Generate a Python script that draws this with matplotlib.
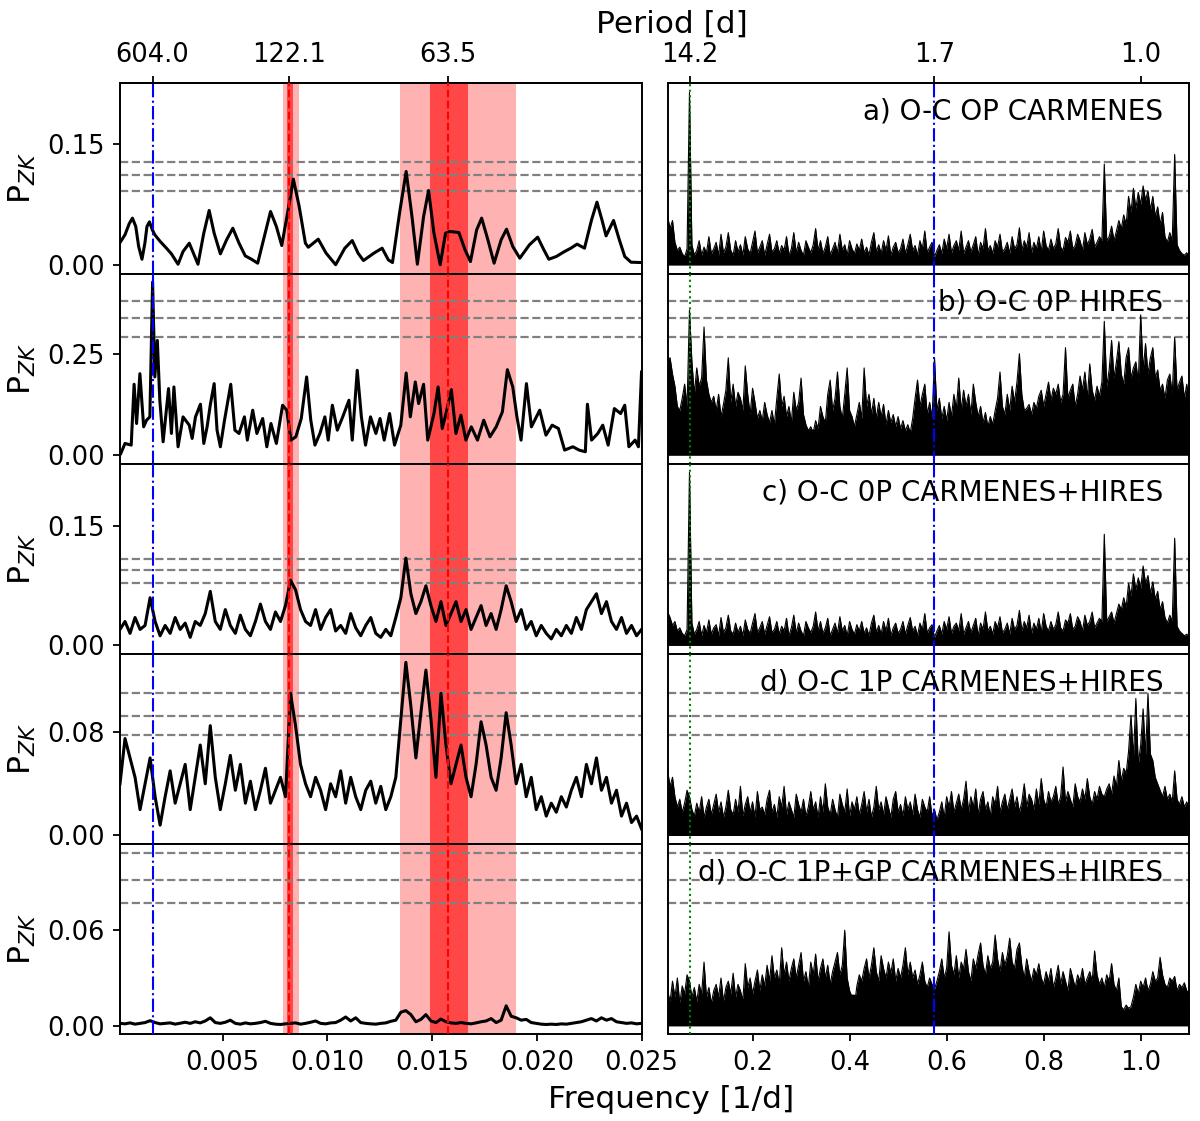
import numpy as np
import matplotlib
matplotlib.use("Agg")
import matplotlib.pyplot as plt

# ------------------------------------------------------------------ data
# periods marked on the top axis [d]
PERIODS_LEFT = [604.0, 122.1, 63.5]
PERIODS_RIGHT = [14.2, 1.74, 1.0]
BLUE_PERIODS = [604.0, 1.74]
GREEN_PERIOD = 14.2
RED_PERIODS = [122.1, 63.5]
RED_BANDS_LIGHT = [(0.00786, 0.00866), (0.01345, 0.01901)]
RED_BANDS_DARK = [(0.00808, 0.00834), (0.01491, 0.01673)]

PANEL_LABELS = ["a) O-C OP CARMENES", "b) O-C 0P HIRES", "c) O-C 0P CARMENES+HIRES",
                "d) O-C 1P CARMENES+HIRES", "d) O-C 1P+GP CARMENES+HIRES"]
YLIMS = [(-0.0107, 0.2253), (-0.0213, 0.448), (-0.0109, 0.229), (-0.0067, 0.1405), (-0.0054, 0.1141)]
FAP_LEVELS = [[0.1277, 0.1116, 0.0917], [0.380, 0.338, 0.292], [0.1093, 0.0955, 0.0788],
              [0.1106, 0.0927, 0.0778], [0.1085, 0.0918, 0.0771]]
YTICKS = [[0.0, 0.15], [0.0, 0.25], [0.0, 0.15], [0.0, 0.08], [0.0, 0.06]]
XTICKS_LEFT = [0.005, 0.010, 0.015, 0.020, 0.025]
XTICKS_RIGHT = [0.2, 0.4, 0.6, 0.8, 1.0]

# panel a, left: frequency [1e-3 1/d], power [1e-3]
FREQ_A_MILLI = [0.100, 0.338, 0.536, 0.694, 0.852, 0.991, 1.149, 1.288, 1.387, 1.506,
                1.644, 1.763, 2.021, 2.318, 2.555, 2.872, 3.110, 3.407, 3.605, 3.822,
                4.100, 4.357, 4.595, 4.892, 5.189, 5.486, 5.783, 6.080, 6.377, 6.674,
                7.030, 7.287, 7.565, 7.822, 8.099, 8.376, 8.654, 8.951, 9.089, 9.564,
                9.941, 10.396, 10.832, 11.188, 11.465, 11.723, 12.218, 12.614, 12.911, 13.109,
                13.445, 13.762, 14.039, 14.297, 14.594, 14.831, 15.089, 15.386, 15.643, 15.841,
                16.277, 16.574, 16.831, 17.128, 17.366, 17.663, 17.960, 18.296, 18.554, 18.851,
                19.187, 19.643, 20.039, 20.336, 20.573, 20.930, 21.326, 21.623, 21.920, 22.276,
                22.613, 22.870, 23.108, 23.306, 23.662, 23.939, 24.197, 24.494, 25.000]
POWER_A_MILLI = [27.7, 37.3, 50.9, 58.0, 47.6, 22.8, 7.0, 26.9, 47.6, 53.4,
                 43.5, 37.3, 29.0, 20.7, 13.7, 0.8, 16.6, 26.9, 14.5, 0.8,
                 39.3, 67.5, 39.3, 13.7, 31.1, 45.5, 26.9, 11.2, 7.0, 2.1,
                 39.3, 66.2, 47.6, 24.0, 64.2, 106.4, 72.5, 26.9, 21.9, 31.9,
                 14.5, 0.2, 20.7, 30.2, 14.5, 5.4, 14.5, 20.7, 6.2, 2.9,
                 64.2, 115.9, 60.0, 0.8, 60.0, 92.3, 39.3, 0.2, 39.3, 41.4,
                 40.2, 18.6, 4.1, 43.5, 58.0, 31.1, 2.1, 31.1, 44.3, 22.8,
                 8.3, 24.8, 34.4, 18.6, 7.0, 10.4, 16.6, 20.7, 25.7, 20.7,
                 55.9, 77.8, 55.9, 36.0, 55.1, 31.1, 10.4, 3.3, 2.9]

# panel b, left
FREQ_B_MILLI = [0.140, 0.338, 0.635, 0.773, 0.892, 1.050, 1.229, 1.367, 1.526, 1.656,
                1.763, 1.882, 2.001, 2.159, 2.417, 2.555, 2.674, 2.872, 3.110, 3.407,
                3.545, 3.704, 3.941, 4.100, 4.258, 4.416, 4.595, 4.733, 4.892, 5.090,
                5.387, 5.585, 5.783, 6.040, 6.179, 6.436, 6.634, 6.911, 7.109, 7.307,
                7.565, 7.862, 8.060, 8.258, 8.495, 8.753, 9.010, 9.208, 9.406, 9.644,
                9.881, 10.040, 10.238, 10.475, 10.733, 11.030, 11.188, 11.426, 11.624, 11.822,
                12.059, 12.317, 12.515, 12.713, 12.970, 13.208, 13.505, 13.762, 13.960, 14.198,
                14.356, 14.594, 14.792, 15.089, 15.287, 15.485, 15.683, 15.920, 16.138, 16.376,
                16.613, 16.871, 17.168, 17.465, 17.762, 18.059, 18.356, 18.593, 18.851, 19.049,
                19.247, 19.504, 19.742, 20.138, 20.435, 20.732, 21.029, 21.326, 21.722, 22.019,
                22.316, 22.415, 22.613, 22.910, 23.147, 23.405, 23.702, 23.999, 24.197, 24.395,
                24.692, 24.850, 25.000]
POWER_B_MILLI = [4.1, 28.7, 24.6, 174.7, 77.9, 200.9, 69.7, 86.1, 94.3, 427.0,
                 192.7, 282.9, 135.3, 32.8, 164.0, 53.3, 168.1, 20.5, 94.3, 73.8,
                 41.0, 94.3, 125.5, 28.7, 69.7, 125.5, 176.3, 61.5, 20.5, 86.1,
                 174.7, 61.5, 53.3, 94.3, 36.9, 110.7, 53.3, 90.2, 20.5, 77.9,
                 28.7, 123.0, 110.7, 36.9, 45.1, 90.2, 192.7, 86.1, 24.6, 53.3,
                 94.3, 36.9, 123.0, 61.5, 94.3, 135.3, 36.9, 209.1, 94.3, 24.6,
                 94.3, 53.3, 90.2, 36.9, 102.5, 24.6, 73.8, 202.5, 94.3, 180.4,
                 127.1, 174.7, 36.9, 102.5, 168.1, 65.6, 106.6, 161.5, 53.3, 98.4,
                 36.9, 69.7, 36.9, 86.1, 45.1, 69.7, 106.6, 210.7, 168.1, 94.3,
                 36.9, 176.3, 69.7, 110.7, 49.2, 73.8, 65.6, 12.3, 20.5, 12.3,
                 8.2, 125.5, 36.9, 53.3, 73.8, 24.6, 114.8, 102.5, 123.0, 20.5,
                 36.9, 20.5, 205.0]

# panels c, d, e, left: power [1e-3] on a uniform grid 0.0001 .. 0.025 1/d
POWER_C_MILLI = [20, 30, 15, 35, 20, 25, 60, 30, 12, 25, 15, 35, 20, 28, 10,
                 30, 25, 40, 68, 30, 20, 45, 25, 15, 38, 20, 12, 30, 52, 30,
                 20, 42, 30, 50, 82, 70, 45, 30, 25, 45, 20, 35, 45, 18, 25,
                 15, 40, 22, 12, 25, 35, 15, 10, 20, 12, 35, 60, 110, 65, 40,
                 55, 75, 50, 30, 55, 25, 40, 55, 30, 45, 20, 35, 50, 25, 40,
                 20, 45, 75, 55, 30, 45, 20, 30, 12, 25, 15, 8, 20, 12, 25,
                 15, 35, 20, 45, 55, 65, 40, 55, 30, 20, 35, 15, 25, 12, 20]
POWER_D_MILLI = [40, 75, 60, 45, 20, 40, 60, 30, 8, 30, 50, 25, 40, 55, 20,
                 45, 70, 40, 85, 45, 20, 40, 62, 35, 55, 25, 42, 20, 35, 52,
                 25, 35, 45, 30, 110, 85, 55, 40, 30, 45, 35, 20, 40, 30, 50,
                 25, 45, 30, 20, 35, 42, 25, 38, 20, 30, 45, 90, 134, 100, 60,
                 95, 128, 90, 45, 110, 70, 40, 55, 70, 45, 30, 55, 88, 70, 45,
                 35, 60, 95, 70, 40, 55, 30, 45, 20, 30, 15, 25, 18, 30, 22,
                 35, 45, 30, 55, 40, 60, 35, 45, 25, 35, 15, 25, 10, 15, 5]
POWER_E_MILLI = [1.5, 1.2, 1.8, 1.0, 1.5, 2.0, 3.2, 2.0, 1.2, 1.5, 1.8, 1.0, 1.6, 2.2, 1.5,
                 2.5, 1.8, 3.0, 5.0, 2.0, 1.5, 2.2, 3.5, 1.5, 1.0, 1.8, 1.2, 1.5, 2.0, 2.8,
                 1.5, 1.0, 0.8, 1.2, 1.5, 1.8, 1.0, 1.5, 2.2, 3.0, 1.5, 1.2, 1.8, 2.0, 3.5,
                 5.5, 3.0, 5.0, 2.0, 1.5, 1.2, 1.0, 1.5, 1.8, 2.8, 3.5, 8.5, 9.5, 7.0, 2.5,
                 4.0, 7.0, 3.0, 2.0, 4.2, 2.5, 1.8, 1.5, 2.0, 1.5, 1.2, 1.8, 2.5, 3.0, 4.5,
                 2.0, 3.5, 12.5, 6.0, 5.0, 3.5, 4.0, 2.0, 1.5, 1.0, 0.8, 1.0, 0.8, 1.2, 1.0,
                 1.5, 2.0, 2.5, 3.5, 4.5, 3.0, 5.0, 3.5, 4.5, 2.5, 2.0, 1.5, 1.8, 1.2, 1.5]

# right panels: peak power [1e-3] on a uniform grid 0.025 .. 1.1 1/d
RIGHT_A_MILLI = [60, 45, 55, 28, 18, 22, 14, 10, 20, 214, 25, 12, 18, 30, 12, 22, 15, 35, 14, 20,
                 28, 12, 38, 15, 22, 40, 18, 12, 30, 16, 25, 12, 35, 20, 14, 28, 42, 15, 22, 30,
                 12, 25, 38, 16, 20, 30, 14, 24, 18, 35, 12, 20, 40, 15, 28, 18, 12, 30, 22, 15,
                 25, 45, 18, 30, 14, 22, 35, 12, 20, 28, 15, 38, 18, 25, 12, 30, 20, 14, 26, 18,
                 32, 15, 22, 12, 28, 40, 16, 25, 14, 30, 18, 36, 12, 22, 28, 15, 20, 32, 14, 25,
                 38, 18, 24, 12, 30, 20, 42, 15, 22, 28, 10, 18, 25, 14, 32, 20, 38, 15, 24, 30,
                 18, 42, 14, 22, 30, 16, 25, 35, 12, 28, 20, 45, 18, 24, 14, 30, 22, 38, 16, 20,
                 28, 14, 35, 20, 25, 46, 18, 30, 22, 40, 15, 28, 20, 35, 16, 42, 24, 18, 32, 20,
                 26, 45, 22, 18, 34, 28, 42, 20, 24, 38, 30, 18, 40, 25, 32, 44, 22, 28, 35, 30,
                 125, 30, 35, 48, 30, 42, 55, 45, 62, 50, 85, 65, 95, 70, 90, 75, 98, 80, 92, 68,
                 85, 60, 72, 50, 65, 35, 28, 40, 30, 137, 25, 18, 14, 12, 15, 10]
RIGHT_B_MILLI = [235, 240, 200, 170, 120, 110, 140, 175, 120, 358, 230, 150, 215, 170, 190, 316, 185, 150, 130, 145,
                 110, 150, 95, 125, 160, 240, 130, 175, 120, 155, 140, 110, 220, 150, 100, 165, 130, 90, 110, 85,
                 130, 100, 80, 110, 75, 140, 200, 120, 145, 95, 120, 80, 155, 110, 130, 190, 100, 75, 60, 70,
                 55, 85, 65, 120, 95, 80, 150, 185, 110, 140, 205, 120, 90, 150, 215, 110, 95, 70, 100, 130,
                 90, 215, 120, 150, 100, 140, 90, 130, 95, 125, 75, 110, 80, 100, 70, 95, 65, 85, 60, 75,
                 55, 90, 140, 185, 120, 150, 175, 100, 130, 90, 240, 110, 140, 90, 120, 85, 130, 95, 150, 115,
                 190, 110, 160, 120, 150, 100, 175, 130, 95, 120, 80, 105, 70, 95, 75, 110, 140, 205, 120, 100,
                 150, 110, 170, 130, 180, 250, 150, 110, 115, 125, 100, 130, 115, 145, 160, 120, 150, 180, 135, 165,
                 150, 175, 130, 150, 265, 140, 160, 175, 120, 150, 195, 160, 205, 140, 225, 160, 135, 170, 145, 180,
                 330, 170, 210, 283, 190, 230, 280, 200, 175, 240, 265, 190, 215, 230, 180, 346, 210, 275, 200, 240,
                 265, 190, 210, 160, 175, 140, 185, 200, 150, 290, 160, 180, 195, 140, 175, 120]
RIGHT_C_MILLI = [42, 35, 25, 30, 18, 22, 15, 12, 20, 218, 28, 14, 20, 30, 12, 25, 16, 32, 14, 22,
                 26, 12, 35, 16, 22, 38, 18, 14, 28, 16, 24, 12, 32, 20, 15, 28, 40, 16, 22, 30,
                 14, 25, 36, 16, 20, 30, 14, 24, 18, 34, 12, 22, 38, 15, 28, 18, 12, 30, 22, 16,
                 24, 42, 18, 30, 15, 22, 34, 12, 20, 28, 15, 36, 18, 25, 12, 30, 20, 14, 26, 18,
                 30, 15, 22, 12, 28, 38, 16, 25, 14, 30, 18, 34, 12, 22, 28, 15, 20, 30, 14, 25,
                 35, 18, 24, 12, 28, 20, 40, 15, 22, 26, 10, 18, 25, 14, 30, 20, 36, 15, 24, 28,
                 18, 40, 14, 22, 30, 16, 25, 34, 12, 28, 20, 42, 18, 24, 14, 30, 22, 36, 16, 20,
                 28, 14, 34, 20, 25, 44, 18, 30, 22, 38, 15, 28, 20, 34, 16, 40, 24, 18, 30, 20,
                 26, 42, 22, 18, 32, 28, 40, 20, 24, 36, 30, 18, 38, 25, 30, 42, 22, 28, 34, 30,
                 140, 30, 36, 42, 28, 40, 52, 45, 60, 48, 78, 62, 90, 70, 85, 72, 100, 78, 88, 65,
                 80, 58, 68, 45, 55, 35, 28, 38, 30, 135, 24, 18, 15, 12, 14, 10]
RIGHT_D_MILLI = [50, 38, 45, 30, 22, 28, 18, 25, 35, 30, 20, 15, 25, 18, 30, 14, 22, 28, 16, 24,
                 32, 18, 26, 14, 22, 35, 20, 16, 28, 18, 38, 15, 24, 30, 18, 26, 14, 34, 20, 22,
                 16, 28, 35, 18, 24, 14, 30, 22, 38, 16, 26, 20, 14, 32, 24, 18, 28, 15, 22, 34,
                 20, 26, 14, 30, 18, 40, 22, 16, 28, 20, 14, 32, 24, 18, 36, 15, 26, 20, 30, 16,
                 24, 34, 18, 28, 14, 22, 38, 20, 26, 16, 30, 22, 14, 28, 34, 18, 24, 15, 30, 20,
                 26, 16, 32, 20, 14, 28, 22, 18, 30, 15, 20, 12, 18, 26, 14, 30, 22, 34, 18, 25,
                 32, 20, 28, 42, 18, 30, 22, 36, 16, 28, 34, 20, 26, 15, 30, 24, 38, 18, 26, 32,
                 20, 28, 36, 22, 30, 18, 26, 40, 22, 32, 28, 20, 36, 24, 44, 28, 22, 34, 26, 30,
                 38, 24, 30, 53, 26, 34, 28, 22, 40, 30, 26, 36, 28, 44, 30, 24, 34, 28, 38, 32,
                 30, 36, 40, 32, 46, 38, 58, 42, 52, 48, 65, 93, 60, 106, 55, 70, 98, 62, 110, 63,
                 58, 45, 40, 35, 30, 38, 28, 32, 26, 50, 28, 24, 30, 22, 26, 20]
RIGHT_E_MILLI = [22, 15, 28, 18, 30, 14, 25, 20, 32, 28, 18, 24, 15, 26, 20, 40, 18, 24, 14, 22,
                 26, 18, 30, 15, 24, 28, 20, 33, 18, 26, 22, 16, 39, 24, 30, 20, 28, 35, 22, 32,
                 25, 38, 28, 44, 30, 35, 26, 49, 32, 40, 28, 36, 42, 30, 38, 46, 28, 34, 24, 40,
                 32, 45, 28, 36, 42, 30, 38, 26, 34, 40, 46, 32, 38, 60, 30, 22, 18, 12, 25, 32,
                 28, 36, 42, 30, 38, 49, 34, 28, 44, 36, 30, 40, 33, 42, 28, 36, 30, 38, 49, 32,
                 40, 30, 35, 26, 32, 40, 28, 24, 30, 26, 23, 28, 34, 42, 30, 36, 59, 38, 32, 44,
                 30, 40, 36, 48, 34, 28, 42, 36, 45, 52, 38, 32, 44, 36, 40, 57, 42, 34, 46, 38,
                 44, 55, 40, 36, 48, 52, 38, 30, 42, 34, 28, 36, 32, 39, 30, 26, 34, 28, 36, 24,
                 30, 38, 26, 34, 28, 22, 36, 30, 24, 32, 28, 36, 26, 30, 34, 28, 47, 32, 26, 30,
                 24, 32, 28, 39, 26, 22, 30, 12, 10, 13, 11, 12, 18, 26, 20, 28, 24, 30, 22, 26,
                 34, 28, 30, 43, 32, 26, 24, 30, 28, 31, 22, 26, 24, 27, 22, 20]

# right panels: level below which the dense periodogram is solid black [1e-3]
FLOOR_FREQ = [0.025, 0.04, 0.1, 0.2, 0.3, 0.4, 0.5, 0.6, 0.7, 0.8, 0.9, 0.95, 0.98, 1.0, 1.03, 1.06, 1.1]
FLOOR_A_MILLI = [40, 12, 10, 11, 10, 10, 11, 10, 11, 12, 12, 15, 35, 40, 35, 12, 8]
FLOOR_B_MILLI = [200, 90, 75, 70, 65, 60, 55, 70, 80, 100, 115, 125, 130, 135, 130, 120, 110]
FLOOR_C_MILLI = [30, 12, 10, 10, 10, 10, 10, 10, 10, 12, 12, 15, 32, 38, 32, 12, 8]
FLOOR_D_MILLI = [35, 14, 12, 12, 12, 12, 12, 12, 13, 15, 18, 25, 45, 50, 40, 18, 12]
FLOOR_E_MILLI = [15, 15, 15, 18, 20, 20, 18, 16, 18, 16, 15, 10, 8, 14, 15, 15, 14]

LEFT_FMIN, LEFT_FMAX = 0.0001, 0.025
RIGHT_FMIN, RIGHT_FMAX = 0.025, 1.1

# ------------------------------------------------------------------ build series
m = 1e-3
left_series = [
    (np.array(FREQ_A_MILLI) * m, np.array(POWER_A_MILLI) * m),
    (np.array(FREQ_B_MILLI) * m, np.array(POWER_B_MILLI) * m),
]
for vals in (POWER_C_MILLI, POWER_D_MILLI, POWER_E_MILLI):
    left_series.append((np.linspace(LEFT_FMIN, LEFT_FMAX, len(vals)), np.array(vals) * m))
right_series = []
for vals in (RIGHT_A_MILLI, RIGHT_B_MILLI, RIGHT_C_MILLI, RIGHT_D_MILLI, RIGHT_E_MILLI):
    right_series.append((np.linspace(RIGHT_FMIN, RIGHT_FMAX, len(vals)), np.array(vals) * m))
floors = [np.array(v) * m for v in (FLOOR_A_MILLI, FLOOR_B_MILLI, FLOOR_C_MILLI,
                                     FLOOR_D_MILLI, FLOOR_E_MILLI)]

# ------------------------------------------------------------------ figure
fig = plt.figure(figsize=(12, 11.21), dpi=100)
gs = fig.add_gridspec(5, 2, left=0.1, right=0.991, top=0.9257, bottom=0.0773,
                      wspace=0.05, hspace=0.0)

TICK_KW = dict(labelsize=18.5, length=4.7, width=1.3, pad=6.5, direction='out')

for r in range(5):
    axL = fig.add_subplot(gs[r, 0])
    axR = fig.add_subplot(gs[r, 1])
    for ax in (axL, axR):
        ax.set_ylim(*YLIMS[r])
        for s in ax.spines.values():
            s.set_linewidth(1.4)
        for lev in FAP_LEVELS[r]:
            ax.axhline(lev, color='grey', ls='--', lw=1.6, zorder=1.5)
        ax.tick_params(**TICK_KW)
    axL.set_xlim(LEFT_FMIN, LEFT_FMAX)
    axR.set_xlim(RIGHT_FMIN, RIGHT_FMAX)

    for lo, hi in RED_BANDS_LIGHT:
        axL.axvspan(lo, hi, color='red', alpha=0.3, lw=0, zorder=1)
    for lo, hi in RED_BANDS_DARK:
        axL.axvspan(lo, hi, color='red', alpha=0.6, lw=0, zorder=1)

    fL, pL = left_series[r]
    axL.plot(fL, pL, color='black', lw=2.2, zorder=2, solid_joinstyle='round')
    fR, pR = right_series[r]
    axR.fill_between(FLOOR_FREQ, 0, floors[r], color='black', lw=0, zorder=2)
    axR.fill_between(fR, 0, pR, color='black', lw=0, zorder=2)
    axR.plot(fR, pR, color='black', lw=0.8, zorder=2)

    for p in RED_PERIODS:
        axL.axvline(1.0 / p, color='red', ls='--', lw=1.5, zorder=3)
    axL.axvline(1.0 / BLUE_PERIODS[0], color='blue', ls='-.', lw=1.5, zorder=4)
    axR.axvline(1.0 / BLUE_PERIODS[1], color='blue', ls='-.', lw=1.5, zorder=4)
    axR.axvline(1.0 / GREEN_PERIOD, color='green', ls=':', lw=1.5, zorder=4)

    axR.text(0.95, 0.85, PANEL_LABELS[r], transform=axR.transAxes, ha='right',
             va='center', fontsize=20, zorder=5)

    axL.set_yticks(YTICKS[r])
    axL.set_yticklabels([f"{t:.2f}" for t in YTICKS[r]])
    axR.tick_params(left=False, labelleft=False)
    axL.set_ylabel(r'P$_{ZK}$', fontsize=22.5)
    axL.yaxis.set_label_coords(-0.157, 0.5)

    if r < 4:
        for ax in (axL, axR):
            ax.tick_params(bottom=False, labelbottom=False)
    else:
        axL.set_xticks(XTICKS_LEFT)
        axL.set_xticklabels([f"{t:.3f}" for t in XTICKS_LEFT])
        axR.set_xticks(XTICKS_RIGHT)
        axR.set_xticklabels([f"{t:.1f}" for t in XTICKS_RIGHT])

    if r == 0:
        for ax, periods in ((axL, PERIODS_LEFT), (axR, PERIODS_RIGHT)):
            top = ax.secondary_xaxis('top')
            top.set_xticks([1.0 / p for p in periods],
                           labels=[f"{p:.1f}" for p in periods])
            top.tick_params(**TICK_KW)
            for s in top.spines.values():
                s.set_linewidth(1.4)

fig.text(0.5596, 0.978, "Period [d]", ha='center', va='center', fontsize=22.5)
fig.text(0.5596, 0.0196, "Frequency [1/d]", ha='center', va='center', fontsize=22.5)

fig.savefig("out.png", dpi=100)
